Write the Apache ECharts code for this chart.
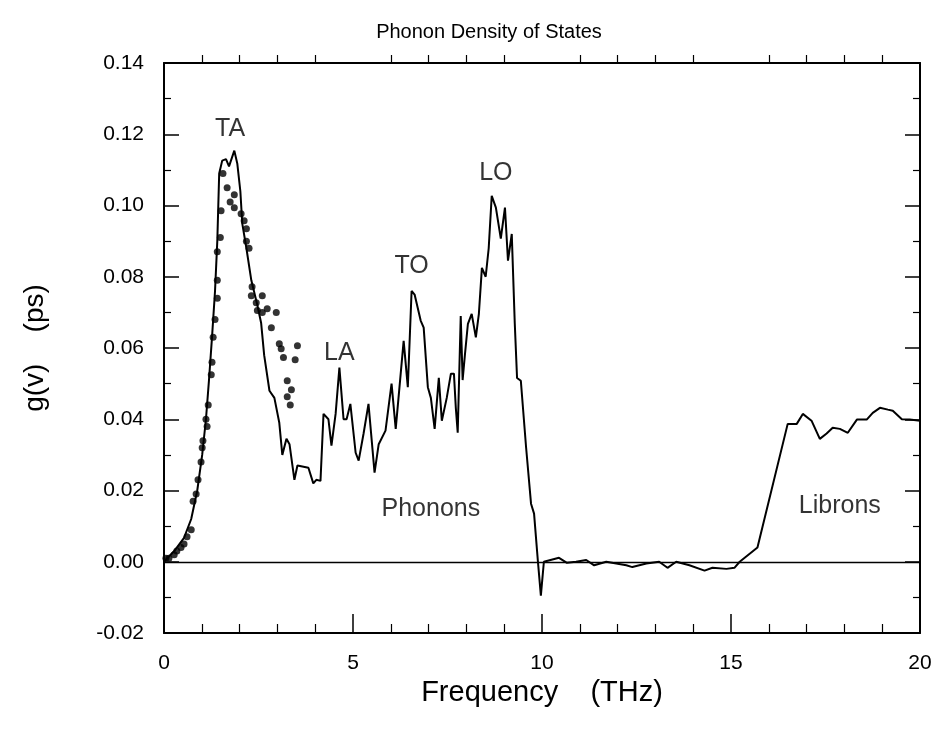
<!DOCTYPE html>
<html>
<head>
<meta charset="utf-8">
<script src="https://cdn.jsdelivr.net/npm/echarts@6/dist/echarts.min.js"></script>
<style>html,body{margin:0;padding:0;background:#fff;}#c{width:939px;height:731px;}</style>
</head>
<body>
<div id="c"></div>
<script>
// Simulated phonon/libron DOS (solid line): [frequency THz, g(v) ps]
var simFreq = [0,0.27,0.53,0.72,0.88,1.01,1.11,1.19,1.27,1.35,1.41,1.46,1.54,1.64,1.72,1.86,1.94,2.02,2.07,2.18,2.31,2.47,2.57,2.65,2.79,2.92,3.05,3.13,3.24,3.32,3.45,3.53,3.82,3.95,4.03,4.14,4.22,4.35,4.43,4.54,4.64,4.75,4.83,4.93,5.07,5.15,5.28,5.41,5.57,5.68,5.86,6.02,6.13,6.34,6.45,6.55,6.63,6.79,6.87,6.98,7.06,7.16,7.27,7.35,7.48,7.59,7.67,7.72,7.77,7.85,7.90,7.96,8.04,8.14,8.25,8.33,8.41,8.51,8.59,8.67,8.78,8.91,9.02,9.10,9.20,9.28,9.34,9.44,9.58,9.71,9.79,9.89,9.97,10.05,10.45,10.66,10.90,11.17,11.38,11.70,12.23,12.39,12.76,13.10,13.32,13.55,13.90,14.30,14.51,14.88,15.09,15.23,15.70,16.50,16.74,16.90,17.13,17.35,17.53,17.69,17.88,18.09,18.33,18.59,18.75,18.94,19.15,19.28,19.52,19.73,20.0];
var simG = [0,0.003,0.0067,0.012,0.020,0.030,0.040,0.051,0.063,0.076,0.090,0.109,0.1126,0.113,0.111,0.1154,0.1117,0.104,0.095,0.088,0.079,0.072,0.067,0.058,0.048,0.046,0.039,0.030,0.0345,0.033,0.023,0.027,0.0264,0.022,0.023,0.0227,0.0415,0.040,0.0326,0.0415,0.0545,0.040,0.040,0.0443,0.0306,0.0284,0.036,0.0443,0.025,0.033,0.0368,0.050,0.0373,0.062,0.049,0.076,0.075,0.0677,0.0657,0.049,0.046,0.0373,0.0516,0.0396,0.046,0.0528,0.0528,0.0432,0.0362,0.069,0.051,0.058,0.0668,0.0696,0.063,0.0696,0.0825,0.080,0.088,0.1027,0.0994,0.0907,0.0994,0.0845,0.092,0.0668,0.0516,0.0508,0.032,0.0163,0.0135,0.0003,-0.0095,0,0.0011,-0.0003,0,0.0005,-0.001,0,-0.001,-0.0015,-0.0005,0,-0.0017,0,-0.001,-0.0025,-0.0017,-0.002,-0.0017,0,0.004,0.0387,0.0387,0.0415,0.0396,0.0345,0.036,0.0376,0.0373,0.0362,0.0399,0.0399,0.0418,0.0432,0.0427,0.0424,0.040,0.0399,0.0396];
// Experimental points (dots)
var expFreq = [0.05,0.13,0.27,0.34,0.45,0.53,0.61,0.72,0.77,0.85,0.90,0.98,1.01,1.03,1.11,1.14,1.17,1.25,1.27,1.30,1.35,1.41,1.41,1.41,1.49,1.51,1.56,1.67,1.86,1.75,1.86,2.04,2.12,2.18,2.18,2.25,2.31,2.33,2.44,2.47,2.60,2.60,2.73,2.84,2.97,3.05,3.10,3.16,3.26,3.26,3.34,3.37,3.47,3.53];
var expG = [0.001,0.001,0.002,0.003,0.004,0.005,0.007,0.009,0.017,0.019,0.023,0.028,0.032,0.034,0.040,0.038,0.044,0.0525,0.056,0.063,0.068,0.074,0.079,0.087,0.091,0.0985,0.109,0.105,0.103,0.101,0.0994,0.0977,0.0957,0.0935,0.090,0.088,0.0747,0.0772,0.0727,0.0705,0.0747,0.070,0.071,0.0657,0.070,0.0612,0.0598,0.0573,0.0508,0.0463,0.044,0.0483,0.0567,0.0606];
// Annotations
var annText = ['TA','LA','TO','LO','Phonons','Librons'];
var annFreq = [1.75,4.64,6.55,8.78,7.06,17.88];
var annG = [0.1215,0.0587,0.083,0.109,0.0149,0.0157];
var xTicks = [0,5,10,15,20];
var yTicks = [-0.02,0,0.02,0.04,0.06,0.08,0.10,0.12,0.14];

var simData = simFreq.map(function(f,i){return [f,simG[i]];});
var expData = expFreq.map(function(f,i){return [f,expG[i]];});
var annData = annText.map(function(t,i){return {value:[annFreq[i],annG[i]],name:t};});

var font = 'Liberation Sans, Arial, sans-serif';
var tickX = {show:true,inside:true,length:19,lineStyle:{color:'#000',width:1.5}};
var tickY = {show:true,inside:true,length:15,lineStyle:{color:'#000',width:1.5}};
var axLine = {show:true,onZero:false,lineStyle:{color:'#000',width:2}};

var chart = echarts.init(document.getElementById('c'), null, {renderer:'canvas'});
chart.setOption({
  backgroundColor:'#fff',
  animation:false,
  title:{text:'Phonon Density of States',left:484,top:17,textAlign:'center',
    textStyle:{fontFamily:font,fontSize:20,fontWeight:'normal',color:'#000'}},
  grid:{left:164,right:19,top:63,bottom:98},
  xAxis:[{type:'value',min:xTicks[0],max:xTicks[xTicks.length-1],interval:5,position:'bottom',
      name:'Frequency    (THz)',nameLocation:'middle',nameGap:42,
      nameTextStyle:{fontFamily:font,fontSize:29,color:'#000'},
      axisLine:axLine,axisTick:tickX,
      minorTick:{show:true,splitNumber:5,length:9,lineStyle:{color:'#000',width:1.2}},
      splitLine:{show:false},
      axisLabel:{fontFamily:font,fontSize:21,color:'#000',margin:20}},
    {type:'value',min:0,max:20,interval:5,position:'top',
      axisLine:axLine,axisTick:{show:false},
      minorTick:{show:true,splitNumber:5,length:8,lineStyle:{color:'#000',width:1.2}},
      splitLine:{show:false},axisLabel:{show:false}}],
  yAxis:[{type:'value',min:yTicks[0],max:yTicks[yTicks.length-1],interval:0.02,
      name:'g(v)    (ps)',nameLocation:'middle',nameGap:115,nameRotate:90,
      nameTextStyle:{fontFamily:font,fontSize:28,color:'#000'},
      axisLine:axLine,axisTick:tickY,
      minorTick:{show:true,splitNumber:2,length:7,lineStyle:{color:'#000',width:1.2}},
      splitLine:{show:false},
      axisLabel:{fontFamily:font,fontSize:21,color:'#000',margin:20,
        formatter:function(v){return v.toFixed(2);}}},
    {type:'value',min:-0.02,max:0.14,interval:0.02,position:'right',
      axisLine:axLine,axisTick:tickY,
      minorTick:{show:true,splitNumber:2,length:7,lineStyle:{color:'#000',width:1.2}},
      splitLine:{show:false},axisLabel:{show:false}}],
  series:[
    {type:'line',data:simData,showSymbol:false,symbol:'none',
      lineStyle:{color:'#000',width:2},
      markLine:{silent:true,symbol:'none',label:{show:false},
        lineStyle:{color:'#000',width:1.3,type:'solid'},data:[{yAxis:0}]}},
    {type:'scatter',data:expData,symbol:'circle',symbolSize:7,itemStyle:{color:'#000'}},
    {type:'scatter',data:annData,symbolSize:0,
      label:{show:true,position:'inside',formatter:'{b}',fontFamily:font,fontSize:25,color:'#000'}}
  ]
});
</script>
</body>
</html>
